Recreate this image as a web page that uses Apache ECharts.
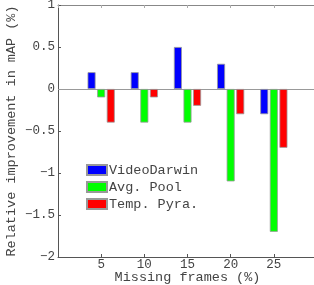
<!DOCTYPE html>
<html>
<head>
<meta charset="utf-8">
<script src="https://cdn.jsdelivr.net/npm/echarts@6/dist/echarts.min.js"></script>
<style>
  html, body { margin: 0; padding: 0; background: #fff; }
  #chart { width: 314px; height: 285px; }
</style>
</head>
<body>
<div id="chart"></div>
<script>
const missingFrames = [5, 10, 15, 20, 25]
const videoDarwin = [0.2, 0.2, 0.5, 0.3, -0.3]
const avgPool = [-0.1, -0.4, -0.4, -1.1, -1.7]
const tempPyra = [-0.4, -0.1, -0.2, -0.3, -0.7]

const FONT = '"Liberation Mono", "DejaVu Sans Mono", monospace'
const AXIS = '#555'
const TEXT = '#444'

const fmtNum = v => String(v).replace('-', '\u2212')

function barSeries(name, values, color, extra) {
  return Object.assign({
    name,
    type: 'bar',
    data: missingFrames.map((x, i) => [x, values[i]]),
    barWidth: 8,
    barGap: '20%',
    itemStyle: { color, borderColor: '#999', borderWidth: 0.8 },
  }, extra || {})
}

const chart = echarts.init(document.getElementById('chart'), null, { renderer: 'canvas' })
chart.setOption({
  animation: false,
  textStyle: { fontFamily: FONT },
  grid: { left: 58, right: -3, top: 5, bottom: 28, outerBoundsMode: 'none', containLabel: false },
  legend: {
    orient: 'vertical',
    left: 81,
    top: 158,
    itemWidth: 20,
    itemHeight: 10,
    itemGap: 3,
    icon: 'rect',
    textStyle: { fontFamily: FONT, fontSize: 13.5, color: TEXT, padding: [0, 0, 0, -3] },
  },
  xAxis: [
    {
      type: 'value',
      min: 0, max: 30, interval: 5,
      name: 'Missing frames (%)',
      nameLocation: 'middle',
      nameGap: 13,
      nameMoveOverlap: false,
      nameTextStyle: { fontFamily: FONT, fontSize: 13.5, color: TEXT },
      axisLine: { onZero: false, lineStyle: { color: AXIS } },
      axisTick: { inside: true, length: 3, lineStyle: { color: AXIS } },
      axisLabel: {
        margin: 1, fontFamily: FONT, fontSize: 12.5, color: TEXT,
        formatter: v => (v === 0 || v === 30) ? '' : String(v),
      },
      splitLine: { show: false },
    },
    {
      type: 'value',
      position: 'top',
      min: 0, max: 30, interval: 5,
      axisLine: { onZero: false, lineStyle: { color: '#888' } },
      axisTick: { inside: true, length: 3, lineStyle: { color: '#aaa' } },
      axisLabel: { show: false },
      splitLine: { show: false },
    },
  ],
  yAxis: {
    type: 'value',
    min: -2, max: 1, interval: 0.5,
    name: 'Relative improvement in mAP (%)',
    nameLocation: 'middle',
    nameGap: 40,
    nameMoveOverlap: false,
    nameTextStyle: { fontFamily: FONT, fontSize: 13.5, color: TEXT },
    axisLine: { show: true, lineStyle: { color: AXIS } },
    axisTick: { show: true, inside: true, length: 3, lineStyle: { color: AXIS } },
    axisLabel: { margin: 3, fontFamily: FONT, fontSize: 12.5, color: TEXT, formatter: fmtNum },
    splitLine: { show: false },
  },
  series: [
    barSeries('VideoDarwin', videoDarwin, '#0000ff', {
      markLine: {
        silent: true,
        symbol: 'none',
        label: { show: false },
        lineStyle: { color: '#999', width: 1, type: 'solid' },
        data: [{ yAxis: 0 }],
        z: 1,
      },
    }),
    barSeries('Avg. Pool', avgPool, '#00ff00'),
    barSeries('Temp. Pyra.', tempPyra, '#ff0000'),
  ],
})
</script>
</body>
</html>
